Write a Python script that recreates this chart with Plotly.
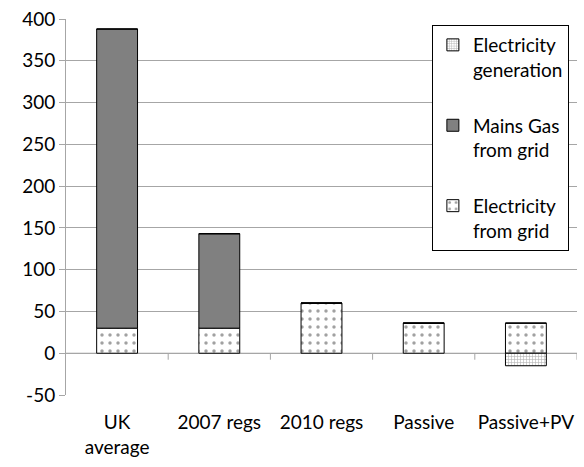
import plotly.graph_objects as go

categories = ["UK<br>average", "2007 regs", "2010 regs", "Passive", "Passive+PV"]
elec_grid = [30, 30, 60, 36, 36]
mains_gas = [358, 113, 0, 0, 0]
elec_generation = [0, 0, 0, 0, -15]
y_ticks = [-50, 0, 50, 100, 150, 200, 250, 300, 350, 400]
y_tick_text = ["-50", "0", "50", "100", "150", "200", "250", "300", "350", "400"]

font_family = "Lato, 'Open Sans', sans-serif"
grid_col = "#a6a6a6"

fig = go.Figure()
fig.add_trace(go.Bar(
    x=categories, y=elec_grid, name="Electricity<br>from grid", legendgroup="c",
    legendrank=3,
    marker=dict(color="white", line=dict(color="black", width=1),
                pattern=dict(shape=".", fgcolor="#444444", bgcolor="white",
                             size=8, solidity=0.15)),
))
fig.add_trace(go.Bar(
    x=categories, y=mains_gas, name="Mains Gas<br>from grid", legendgroup="b",
    legendrank=2,
    marker=dict(color="#808080", line=dict(color="black", width=1)),
))
fig.add_trace(go.Bar(
    x=categories, y=elec_generation, name="Electricity<br>generation", legendgroup="a",
    legendrank=1,
    marker=dict(color="white", line=dict(color="black", width=1),
                pattern=dict(shape="+", fgcolor="#666666", bgcolor="white",
                             size=3, solidity=0.35)),
))

# category-axis tick marks along the zero line
shapes = [dict(type="line", xref="x", yref="y", x0=-0.5, x1=4.5, y0=0, y1=0,
               line=dict(color=grid_col, width=1), layer="below")]
for b in [0.5, 1.5, 2.5, 3.5, 4.5]:
    shapes.append(dict(type="line", xref="x", yref="paper", x0=b, x1=b,
                       y0=0.1108, y1=0.1108 - 0.017,
                       line=dict(color=grid_col, width=1)))

fig.update_layout(
    width=584, height=467,
    margin=dict(l=66, r=7, t=16, b=72),
    paper_bgcolor="white", plot_bgcolor="white",
    barmode="relative", bargap=0.6,
    font=dict(family=font_family, size=19, color="black"),
    showlegend=True,
    legend=dict(x=0.716, y=0.984, xanchor="left", yanchor="top",
                bgcolor="white", bordercolor="black", borderwidth=1,
                traceorder="grouped", tracegroupgap=28, valign="top",
                font=dict(size=19), itemwidth=30),
    xaxis=dict(type="category", range=[-0.5, 4.5], showgrid=False,
               showline=False, ticks="", ticklabelstandoff=14),
    yaxis=dict(range=[-50, 400], tickvals=y_ticks, ticktext=y_tick_text,
               showgrid=True, gridcolor=grid_col, gridwidth=1, zeroline=False,
               showline=True, linecolor=grid_col, linewidth=1,
               ticks="outside", ticklen=6, tickcolor=grid_col),
    shapes=shapes,
)

fig.write_html("out.html")
